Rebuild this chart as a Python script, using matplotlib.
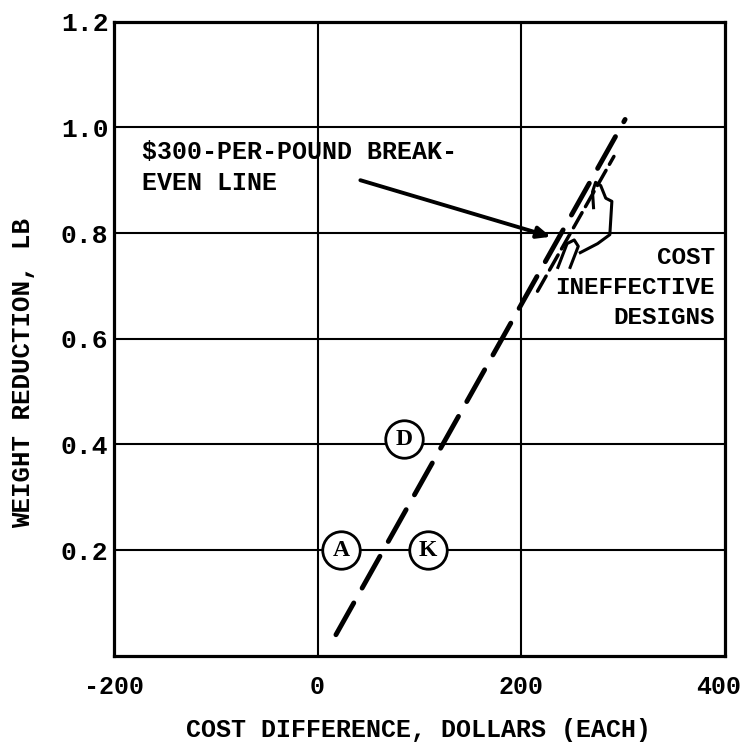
import matplotlib
matplotlib.use("Agg")
import matplotlib.pyplot as plt
from matplotlib.transforms import ScaledTranslation

# design points
design_labels = ["A", "K", "D"]
design_cost = [23, 108, 85]
design_weight = [0.2, 0.2, 0.41]

# $300-per-pound break-even line (dashed)
breakeven_cost = [18, 302]
breakeven_weight = [0.04, 1.015]

# hand drawn hatching beside the break-even line
hatch_cost = [216, 291]
hatch_weight = [0.69, 0.945]

# hand drawn pointer from the "cost ineffective" note
squiggle_cost = [258, 275, 287, 289, 283, 278, 273, 270, 271]
squiggle_weight = [0.763, 0.78, 0.797, 0.86, 0.866, 0.89, 0.896, 0.878, 0.848]
hook_cost = [236, 245, 252, 256, 248]
hook_weight = [0.735, 0.78, 0.787, 0.775, 0.735]

x_ticks = [-200, 0, 200, 400]
y_ticks = [0.2, 0.4, 0.6, 0.8, 1.0, 1.2]

FONT = "Liberation Mono"

fig = plt.figure(figsize=(7.45, 7.47), dpi=100)
ax = fig.add_axes([0.153, 0.122, 0.820, 0.849])
ax.set_xlim(-200, 400)
ax.set_ylim(0, 1.2)

for gx in [0, 200]:
    ax.axvline(gx, color="black", lw=1.5, zorder=1)
for gy in [0.2, 0.4, 0.6, 0.8, 1.0]:
    ax.axhline(gy, color="black", lw=1.5, zorder=1)

ax.plot(breakeven_cost, breakeven_weight, color="black", lw=3.5,
        linestyle=(0, (7.5, 3.5)), solid_capstyle="round",
        dash_capstyle="round", zorder=3)
ax.plot(hatch_cost, hatch_weight, color="black", lw=2.5,
        linestyle=(0, (5, 2)), dash_capstyle="round", zorder=3)
ax.plot(squiggle_cost, squiggle_weight, color="black", lw=2.2, zorder=3)
ax.plot(hook_cost, hook_weight, color="black", lw=2.2, zorder=3)

ax.plot(design_cost, design_weight, "o", ms=27, mfc="white", mec="black",
        mew=2, zorder=4, linestyle="none")
for lab, cx, cy in zip(design_labels, design_cost, design_weight):
    ax.text(cx, cy, lab, ha="center", va="center", fontsize=17,
            family="Liberation Serif", fontweight="bold", zorder=5)

ax.text(-172, 0.924, "$300-PER-POUND BREAK-\nEVEN LINE", ha="left",
        va="center", fontsize=18, family=FONT, fontweight="bold",
        linespacing=1.36, zorder=5)
ax.annotate("", xy=(229, 0.793), xytext=(42, 0.90),
            arrowprops=dict(arrowstyle="-|>,head_length=0.8,head_width=0.35",
                            color="black", lw=2.8, shrinkA=0, shrinkB=0),
            zorder=5)

ax.text(390, 0.697, "COST\nINEFFECTIVE\nDESIGNS", ha="right", va="center",
        fontsize=17.5, family=FONT, fontweight="bold", linespacing=1.38,
        zorder=5)

ax.set_xticks(x_ticks)
ax.set_xticklabels([str(v) for v in x_ticks])
ax.set_yticks(y_ticks)
ax.set_yticklabels(["%.1f" % v for v in y_ticks])
ax.tick_params(length=0)
ax.tick_params(axis="x", pad=14, labelsize=18)
ax.tick_params(axis="y", pad=4, labelsize=19)
for lab in ax.get_xticklabels() + ax.get_yticklabels():
    lab.set_family(FONT)
    lab.set_fontweight("bold")
# last x label sits a bit left so it stays inside the figure
last = ax.get_xticklabels()[-1]
last.set_transform(last.get_transform() +
                   ScaledTranslation(-6 / 100, 0, fig.dpi_scale_trans))

for sp in ax.spines.values():
    sp.set_linewidth(2.3)

fig.text(418 / 745, 1 - 730 / 747, "COST DIFFERENCE, DOLLARS (EACH)",
         ha="center", va="center", fontsize=18, family=FONT,
         fontweight="bold")
fig.text(23 / 745, 1 - 373 / 747, "WEIGHT REDUCTION, LB", rotation=90,
         ha="center", va="center", fontsize=18.5, family=FONT,
         fontweight="bold")

fig.savefig("out.png", dpi=100)
